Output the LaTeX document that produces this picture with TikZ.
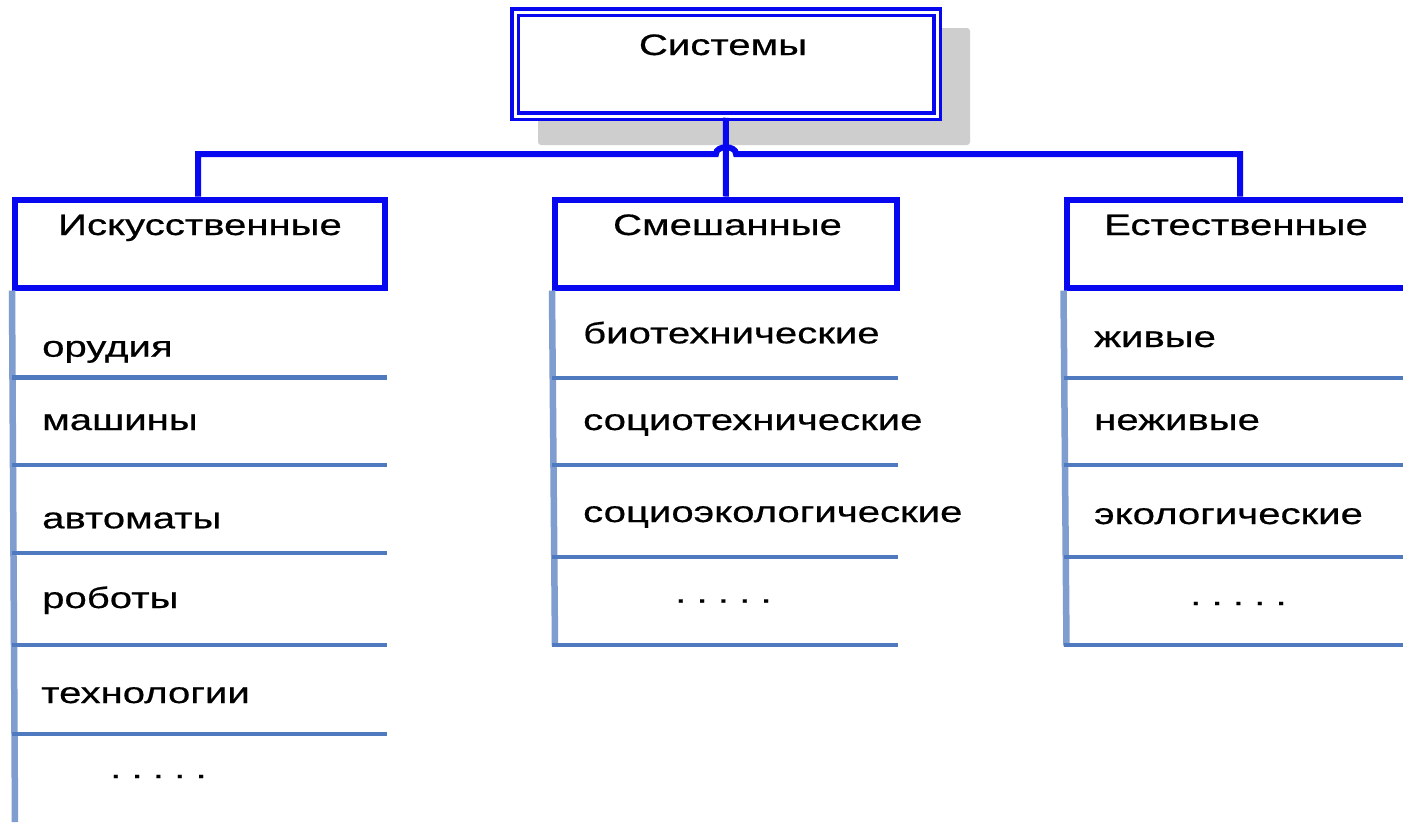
\documentclass[tikz,border=0pt]{standalone}
\usepackage{fontspec}
\setmainfont{Liberation Sans}[FakeStretch=1.36,FakeBold=0.6]
\definecolor{bord}{RGB}{8,8,240}
\definecolor{vlist}{RGB}{127,157,207}
\definecolor{hlist}{RGB}{80,122,192}
\definecolor{shadowgray}{RGB}{206,206,206}
\newcommand{\mydots}{.\kern10.2pt.\kern10.2pt.\kern10.2pt.\kern10.2pt.}
\begin{document}
\begin{tikzpicture}[x=1pt,y=-1pt,
  txt/.style={inner sep=0pt, font=\fontsize{29.5}{35}\selectfont, anchor=base west},
  hdr/.style={inner sep=0pt, font=\fontsize{29.5}{35}\selectfont, anchor=base},
  hbox/.style={draw=bord, line width=6pt, minimum height=88pt, inner sep=0pt, fill=white},
  topbox/.style={draw=bord, double=white, double distance=3pt, line width=3.5pt, inner sep=0pt, fill=white},
  conn/.style={draw=bord, line width=6pt, line join=miter},
  vl/.style={draw=vlist, line width=6.5pt},
  hl/.style={draw=hlist, line width=4.5pt}]
\clip (0,0) rectangle (1403,822);
\fill[white] (0,0) rectangle (1403,822);
% shadow
\fill[shadowgray, rounded corners=3pt] (538,28) rectangle (970,145);
% boxes
\node[topbox, minimum width=422pt, minimum height=104pt] (sys) at (726,64) {};
\node[hbox, minimum width=369.5pt] (art) at (199.75,243.5) {};
\node[hbox, minimum width=341.5pt] (mix) at (725.75,243.5) {};
\node[hbox, minimum width=360pt] (nat) at (1246.5,243.5) {};
% connectors
\coordinate (jl) at (198,154);
\coordinate (jr) at (1240,154);
\draw[conn] (sys.south) -- (mix.north);
\draw[conn] (jl |- art.north) -- (jl) -- (716,154) .. controls (716,145) and (736,145) .. (736,154) -- (jr) -- (jr |- nat.north);
% header texts
\node[hdr] (sysT) at (723,55) {Системы};
\node[hdr] (artT) at (200,235) {Искусственные};
\node[hdr] (mixT) at (727.5,235) {Смешанные};
\node[hdr] (natT) at (1236,235) {Естественные};
% list lines: left
\draw[vl] (art.south west) -- (15,822);
\foreach \y in {377.5,465,553,645,734} \draw[hl] (12,\y) -- (387,\y);
% middle
\draw[vl] (mix.south west) -- (555,646);
\foreach \y in {378,465,557,645} \draw[hl] (552,\y) -- (898,\y);
% right
\draw[vl] (nat.south west) -- (1066.5,646);
\foreach \y in {378,465,557,645} \draw[hl] (1064,\y) -- (1403,\y);
% list texts
\node[txt] (a1) at (42,356.7) {орудия};
\node[txt] (a2) at (42,430) {машины};
\node[txt] (a3) at (42,528.3) {автоматы};
\node[txt] (a4) at (42,608) {роботы};
\node[txt] (a5) at (41,703) {технологии};
\node[txt] (a6) at (110,778) {\mydots};
\node[txt] (m1) at (583,343.3) {биотехнические};
\node[txt] (m2) at (583,430) {социотехнические};
\node[txt] (m3) at (583,522) {социоэкологические};
\node[txt] (m4) at (675,602.5) {\mydots};
\node[txt] (n1) at (1094,347) {живые};
\node[txt] (n2) at (1094,430) {неживые};
\node[txt] (n3) at (1094,524) {экологические};
\node[txt] (n4) at (1190,605) {\mydots};
\end{tikzpicture}
\end{document}
